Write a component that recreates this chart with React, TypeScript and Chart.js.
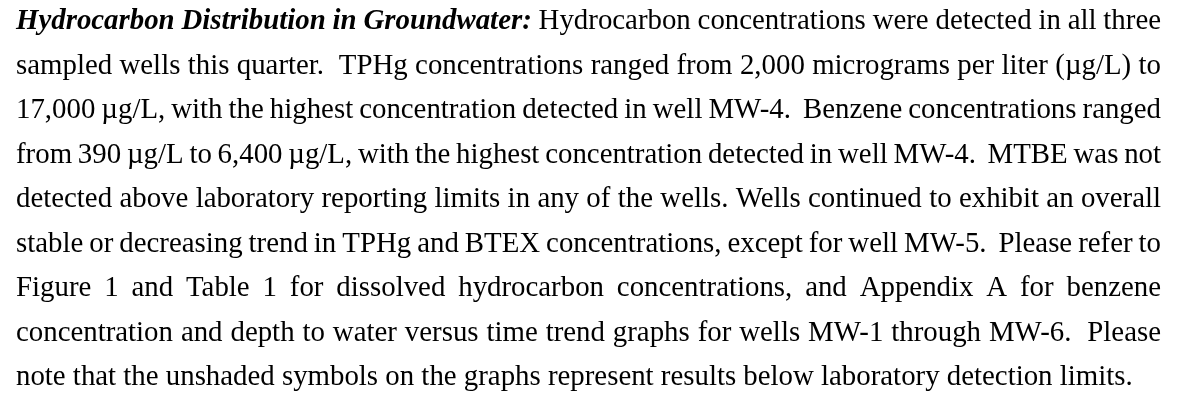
import React, { useEffect, useRef } from "react";
import { Chart, registerables } from "chart.js";

Chart.register(...registerables);

// Paragraph heading (bold italic) and body lines, exactly as broken in the reference
const HEADING = "Hydrocarbon Distribution in Groundwater:";
const LINES = [
  " Hydrocarbon concentrations were detected in all three",
  "sampled wells this quarter.  TPHg concentrations ranged from 2,000 micrograms per liter (\u00b5g/L) to",
  "17,000 \u00b5g/L, with the highest concentration detected in well MW-4.  Benzene concentrations ranged",
  "from 390 \u00b5g/L to 6,400 \u00b5g/L, with the highest concentration detected in well MW-4.  MTBE was not",
  "detected above laboratory reporting limits in any of the wells. Wells continued to exhibit an overall",
  "stable or decreasing trend in TPHg and BTEX concentrations, except for well MW-5.  Please refer to",
  "Figure 1 and Table 1 for dissolved hydrocarbon concentrations, and Appendix A for benzene",
  "concentration and depth to water versus time trend graphs for wells MW-1 through MW-6.  Please",
  "note that the unshaded symbols on the graphs represent results below laboratory detection limits.",
];

const W = 1177;
const H = 400;
const FONT_SIZE = 28.85;
const LEFT = 16;
const RIGHT = 1161;
const FIRST_BASELINE = 29;
const LINE_STEP = 44.5;
const FAMILY = "'Liberation Serif', 'Times New Roman', serif";

const textPlugin = {
  id: "paragraph",
  afterDraw(chart: any) {
    const ctx: CanvasRenderingContext2D = chart.ctx;
    ctx.save();
    ctx.fillStyle = "#000";
    ctx.textBaseline = "alphabetic";
    const normal = `${FONT_SIZE}px ${FAMILY}`;
    const boldItalic = `italic bold ${FONT_SIZE}px ${FAMILY}`;
    LINES.forEach((line, i) => {
      const y = FIRST_BASELINE + i * LINE_STEP;
      const last = i === LINES.length - 1;
      const tokens: { t: string; f: string }[] = [];
      if (i === 0) {
        HEADING.split(" ").forEach((t) => tokens.push({ t, f: boldItalic }));
        line.split(" ").slice(1).forEach((t) => tokens.push({ t, f: normal }));
      } else {
        line.split(" ").forEach((t) => tokens.push({ t, f: normal }));
      }
      let wordsW = 0;
      tokens.forEach((tk) => {
        ctx.font = tk.f;
        wordsW += ctx.measureText(tk.t).width;
      });
      const gaps = tokens.length - 1;
      ctx.font = normal;
      const spaceW = ctx.measureText(" ").width;
      const gap = last ? spaceW : (RIGHT - LEFT - wordsW) / gaps;
      let x = LEFT;
      tokens.forEach((tk) => {
        ctx.font = tk.f;
        if (tk.t) ctx.fillText(tk.t, x, y);
        x += ctx.measureText(tk.t).width + gap;
      });
    });
    ctx.restore();
  },
};

export default function App() {
  const ref = useRef<HTMLCanvasElement>(null);
  useEffect(() => {
    document.body.style.margin = "0";
    document.body.style.background = "#fff";
    const chart = new Chart(ref.current!, {
      type: "bar",
      data: { labels: [], datasets: [] },
      options: {
        animation: false,
        responsive: false,
        events: [],
        layout: { padding: 0 },
        plugins: { legend: { display: false }, tooltip: { enabled: false }, title: { display: false } },
        scales: { x: { display: false }, y: { display: false } },
      },
      plugins: [textPlugin],
    });
    return () => chart.destroy();
  }, []);
  return (
    <div style={{ width: W, height: H, background: "#fff" }}>
      <canvas ref={ref} width={W} height={H} style={{ display: "block", width: W, height: H }} />
    </div>
  );
}
